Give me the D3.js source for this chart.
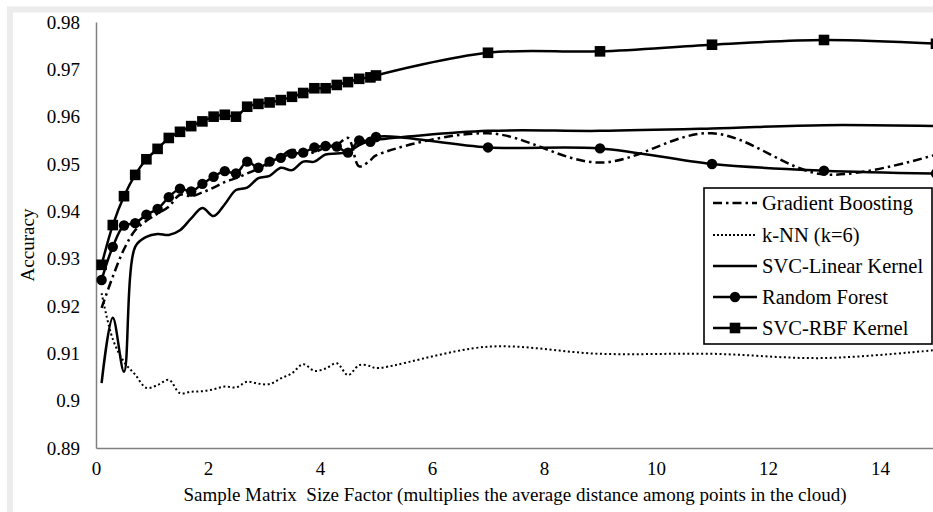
<!DOCTYPE html>
<html><head><meta charset="utf-8">
<script src="https://cdn.jsdelivr.net/npm/d3@7"></script>
<style>html,body{margin:0;padding:0;background:#fff;}svg{display:block;}
svg text{font-family:"Liberation Serif","Times New Roman",Times,"DejaVu Serif",serif;}</style>
</head><body>
<svg id="chart" width="933" height="512"></svg>
<script>
const xValues = [0.1,0.3,0.5,0.7,0.9,1.1,1.3,1.5,1.7,1.9,2.1,2.3,2.5,2.7,2.9,3.1,3.3,3.5,3.7,3.9,4.1,4.3,4.5,4.7,4.9,5,7,9,11,13,15];
const gradientBoosting = [0.9196,0.9262,0.9320,0.9360,0.9380,0.9395,0.9410,0.9435,0.9432,0.9440,0.9450,0.9462,0.9470,0.9480,0.9490,0.9500,0.9515,0.9530,0.9520,0.9525,0.9535,0.9540,0.9555,0.9495,0.9508,0.9518,0.9565,0.9503,0.9565,0.9478,0.9520];
const knn = [0.9227,0.9130,0.9082,0.9055,0.9027,0.9033,0.9044,0.9016,0.9019,0.9020,0.9024,0.9030,0.9028,0.9040,0.9036,0.9035,0.9047,0.9058,0.9077,0.9063,0.9068,0.9079,0.9054,0.9075,0.9073,0.9069,0.9114,0.9099,0.9099,0.9090,0.9107];
const svcLinear = [0.9037,0.9175,0.9061,0.9325,0.9346,0.9352,0.9350,0.9360,0.9385,0.9407,0.9390,0.9415,0.9445,0.9450,0.9470,0.9475,0.9492,0.9487,0.9505,0.9505,0.9520,0.9522,0.9525,0.9540,0.9549,0.9551,0.9570,0.9570,0.9575,0.9582,0.9580];
const randomForest = [0.9255,0.9325,0.9370,0.9375,0.9393,0.9405,0.9430,0.9448,0.9442,0.9458,0.9473,0.9485,0.9480,0.9505,0.9492,0.9505,0.9513,0.9522,0.9524,0.9535,0.9538,0.9537,0.9524,0.9550,0.9547,0.9557,0.9535,0.9533,0.9500,0.9486,0.9480];
const svcRbf = [0.9287,0.9371,0.9432,0.9477,0.9510,0.9532,0.9555,0.9568,0.9580,0.9590,0.9600,0.9604,0.9600,0.9621,0.9627,0.9630,0.9635,0.9642,0.9650,0.9660,0.9660,0.9667,0.9673,0.9680,0.9683,0.9687,0.9735,0.9738,0.9752,0.9762,0.9754];
const yTicks = [0.89,0.9,0.91,0.92,0.93,0.94,0.95,0.96,0.97,0.98];
const xTicks = [0,2,4,6,8,10,12,14];
const legendNames = ["Gradient Boosting","k-NN (k=6)","SVC-Linear Kernel","Random Forest","SVC-RBF Kernel"];

const svg = d3.select("#chart");

// outer frame
svg.append("rect").attr("x",10).attr("y",9.5).attr("width",1000).attr("height",600)
  .attr("fill","none").attr("stroke","#ececec").attr("stroke-width",6);

const x = d3.scaleLinear().domain([0,15]).range([96,936]);
const y = d3.scaleLinear().domain([0.89,0.98]).range([448,22]);

// axes
const yAxis = svg.append("g").attr("transform","translate(96,0)")
  .call(d3.axisLeft(y).tickValues(yTicks).tickSize(0).tickPadding(16).tickFormat(d=>String(+d.toFixed(2))));
yAxis.attr("font-family",null);
yAxis.select(".domain").attr("stroke","#808080").attr("stroke-width",1.5);
yAxis.selectAll("text").attr("font-size",19).attr("fill","#000");

const xAxis = svg.append("g").attr("transform","translate(0,448)")
  .call(d3.axisBottom(x).tickValues(xTicks).tickSize(0).tickPadding(14).tickFormat(d3.format("d")));
xAxis.attr("font-family",null);
xAxis.select(".domain").attr("stroke","#808080").attr("stroke-width",1.5);
xAxis.selectAll("text").attr("font-size",19).attr("fill","#000");

svg.append("text").attr("x",515).attr("y",501).attr("text-anchor","middle")
  .attr("font-size",19).style("white-space","pre")
  .text("Sample Matrix  Size Factor (multiplies the average distance among points in the cloud)");
svg.append("text").attr("transform","translate(34,245) rotate(-90)").attr("text-anchor","middle")
  .attr("font-size",19).text("Accuracy");

const plot = svg.append("g");
const line = d3.line().x(d=>x(d[0])).y(d=>y(d[1])).curve(d3.curveCatmullRom.alpha(0.5));
function pts(vals){ return xValues.map((xv,i)=>[xv,vals[i]]); }

const series = [
  {vals:knn, dash:"2,2.6", w:2},
  {vals:gradientBoosting, dash:"9,4,2.5,4", w:2.5},
  {vals:svcLinear, dash:null, w:2.5},
  {vals:randomForest, dash:null, w:2.5, marker:"circle"},
  {vals:svcRbf, dash:null, w:2.5, marker:"square"}
];
series.forEach(s=>{
  const p = plot.append("path").datum(pts(s.vals)).attr("d",line)
    .attr("fill","none").attr("stroke","#000").attr("stroke-width",s.w);
  if(s.dash) p.attr("stroke-dasharray",s.dash);
  if(s.marker==="circle"){
    plot.selectAll(null).data(pts(s.vals)).enter().append("circle")
      .attr("cx",d=>x(d[0])).attr("cy",d=>y(d[1])).attr("r",5.2).attr("fill","#000");
  } else if(s.marker==="square"){
    plot.selectAll(null).data(pts(s.vals)).enter().append("rect")
      .attr("x",d=>x(d[0])-5.3).attr("y",d=>y(d[1])-5.3).attr("width",10.6).attr("height",10.6).attr("fill","#000");
  }
});

// legend
const lg = svg.append("g");
lg.append("rect").attr("x",704).attr("y",188).attr("width",228).attr("height",156)
  .attr("fill","#fff").attr("stroke","#000").attr("stroke-width",1.6);
const rowY = [203,235,266,297,328];
const legendStyles = [
  {dash:"9,4,2.5,4", w:2.5},{dash:"2,2", w:2},{dash:null,w:2.5},{dash:null,w:2.5,marker:"circle"},{dash:null,w:2.5,marker:"square"}
];
legendNames.forEach((name,i)=>{
  const st = legendStyles[i], yy = rowY[i];
  const l = lg.append("line").attr("x1",713).attr("x2",757).attr("y1",yy).attr("y2",yy)
    .attr("stroke","#000").attr("stroke-width",st.w);
  if(st.dash) l.attr("stroke-dasharray",st.dash);
  if(st.marker==="circle") lg.append("circle").attr("cx",735).attr("cy",yy).attr("r",5.2).attr("fill","#000");
  if(st.marker==="square") lg.append("rect").attr("x",729.7).attr("y",yy-5.3).attr("width",10.6).attr("height",10.6).attr("fill","#000");
  lg.append("text").attr("x",762).attr("y",yy+6.5).attr("font-size",20.5).text(name);
});
</script>
</body></html>
